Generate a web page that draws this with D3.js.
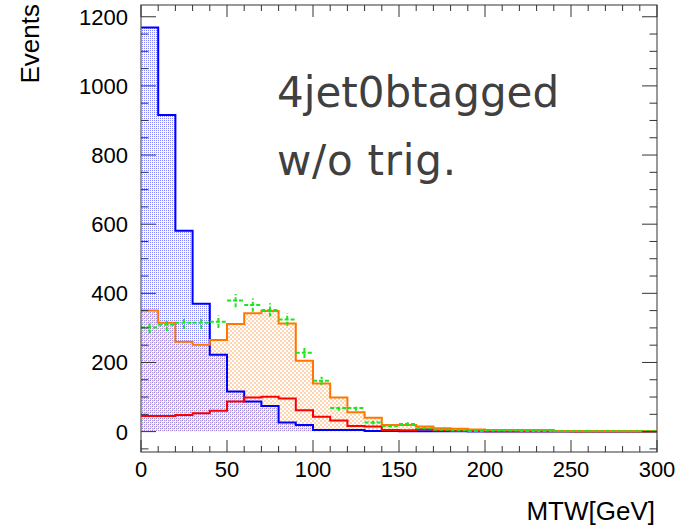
<!DOCTYPE html>
<html><head><meta charset="utf-8">
<script src="https://cdn.jsdelivr.net/npm/d3@7"></script>
<style>
html,body{margin:0;padding:0;background:#fff;}
svg{display:block;}
</style></head>
<body>
<svg id="c" width="696" height="529"></svg>
<script>
// ---- data (bins of 10 GeV from 0 to 300) ----
const binEdges = d3.range(0, 301, 10);
const blueVals   = [1169, 916, 581, 370, 222, 116, 87, 74, 26, 19, 5, 5, 5, 2, 2, 1, 1, 1, 1, 0.5, 0.5, 0.5, 0.5, 0.5, 0, 0, 0, 0, 0, 0];
const orangeVals = [350, 315, 260, 251, 265, 311, 342, 349, 313, 205, 139, 99, 56, 40, 19, 19, 15, 10, 8, 6, 5, 5, 5, 5, 2, 2, 2, 2, 2, 2];
const redVals    = [45, 45, 48, 53, 60, 87, 99, 101, 96, 62, 43, 32, 16, 15, 5, 4, 7, 3, 2, 2, 1, 1, 1, 1, 1, 0.5, 0.5, 0.5, 0.5, 0.5];
const dataVals   = [301, 309, 315, 315, 318, 379, 366, 352, 324, 228, 147, 68, 68, 26, 16, 22, 10, 5, 4, 2, 3, 3, 2, 2, 1, 1, 1, 1, 1, 1];
const dataErrs   = [17, 18, 18, 18, 18, 19, 19, 19, 18, 15, 12, 8, 8, 5, 4, 5, 3, 2, 2, 1.5, 1.7, 1.7, 1.5, 1.5, 1, 1, 1, 1, 1, 1];
const xTicks = [0, 50, 100, 150, 200, 250, 300];
const yTicks = [0, 200, 400, 600, 800, 1000, 1200];
const labelLines = ["4jet0btagged", "w/o trig."];

// ---- layout ----
const L = 141, R = 657, T = 5, B = 452;
const svg = d3.select("#c");
const x = d3.scaleLinear().domain([0, 300]).range([L, R]);
const y = d3.scaleLinear().domain([-59, 1234]).range([B, T]);

// patterns (dotted fills)
const defs = svg.append("defs");
const pb = defs.append("pattern").attr("id", "pblue").attr("patternUnits", "userSpaceOnUse").attr("width", 2).attr("height", 2);
pb.append("rect").attr("x", 0).attr("y", 0).attr("width", 1).attr("height", 1).attr("fill", "#5050ff").attr("opacity", 0.7);
const po = defs.append("pattern").attr("id", "porange").attr("patternUnits", "userSpaceOnUse").attr("width", 4).attr("height", 4);
po.append("rect").attr("x", 0).attr("y", 0).attr("width", 2).attr("height", 2).attr("fill", "#fcb070").attr("opacity", 0.55);
po.append("rect").attr("x", 2).attr("y", 2).attr("width", 2).attr("height", 2).attr("fill", "#fcb070").attr("opacity", 0.55);

function stepPts(vals) {
  const pts = vals.map((v, i) => [binEdges[i], v]);
  pts.push([binEdges[vals.length], vals[vals.length - 1]]);
  return pts;
}
const area = d3.area().x(d => x(d[0])).y0(y(0)).y1(d => y(d[1])).curve(d3.curveStepAfter);
const line = d3.line().x(d => x(d[0])).y(d => y(d[1])).curve(d3.curveStepAfter);

const g = svg.append("g");
g.append("path").attr("d", area(stepPts(blueVals))).attr("fill", "url(#pblue)");
g.append("path").attr("d", area(stepPts(orangeVals))).attr("fill", "url(#porange)");
g.append("path").attr("d", line(stepPts(blueVals))).attr("fill", "none").attr("stroke", "#0000ff").attr("stroke-width", 2);
g.append("path").attr("d", line(stepPts(redVals))).attr("fill", "none").attr("stroke", "#ff0000").attr("stroke-width", 2);
g.append("path").attr("d", line(stepPts(orangeVals))).attr("fill", "none").attr("stroke", "#ff7700").attr("stroke-width", 2);

// data points with error bars (dashed green)
const pg = g.append("g").attr("stroke", "#1ee61e").attr("stroke-width", 2).attr("stroke-dasharray", "4,2");
dataVals.forEach((v, i) => {
  const x0 = x(binEdges[i]), x1 = x(binEdges[i + 1]), xc = (x0 + x1) / 2;
  pg.append("line").attr("x1", x0).attr("x2", x1).attr("y1", y(v)).attr("y2", y(v));
  pg.append("line").attr("x1", xc).attr("x2", xc).attr("y1", y(v - dataErrs[i])).attr("y2", y(v + dataErrs[i]));
});

// frame
svg.append("rect").attr("x", L).attr("y", T).attr("width", R - L).attr("height", B - T)
  .attr("fill", "none").attr("stroke", "#555").attr("stroke-width", 1.2);

// ticks
const tk = svg.append("g").attr("stroke", "#333").attr("stroke-width", 1);
d3.range(0, 301, 10).forEach(v => {
  const len = v % 50 === 0 ? 12 : 6;
  tk.append("line").attr("x1", x(v)).attr("x2", x(v)).attr("y1", B).attr("y2", B - len);
  tk.append("line").attr("x1", x(v)).attr("x2", x(v)).attr("y1", T).attr("y2", T + len);
});
d3.range(-50, 1201, 50).forEach(v => {
  const len = v % 200 === 0 ? 15 : 7.5;
  tk.append("line").attr("y1", y(v)).attr("y2", y(v)).attr("x1", L).attr("x2", L + len);
  tk.append("line").attr("y1", y(v)).attr("y2", y(v)).attr("x1", R).attr("x2", R - len);
});

// tick labels
const lab = svg.append("g").attr("font-family", "'Liberation Sans', Arial, sans-serif").attr("font-size", 22).attr("fill", "#000");
xTicks.forEach(v => lab.append("text").attr("x", x(v)).attr("y", 477).attr("text-anchor", "middle").text(v));
yTicks.forEach(v => lab.append("text").attr("x", 128).attr("y", y(v)).attr("dy", "0.36em").attr("text-anchor", "end").text(v));

// axis titles
svg.append("text").attr("font-family", "'Liberation Sans', Arial, sans-serif").attr("font-size", 26)
  .attr("x", 655).attr("y", 520).attr("text-anchor", "end").text("MTW[GeV]");
svg.append("text").attr("font-family", "'Liberation Sans', Arial, sans-serif").attr("font-size", 26)
  .attr("transform", "translate(39,4) rotate(-90)").attr("text-anchor", "end").text("Events");

// annotation
const ann = svg.append("g").attr("font-family", "'DejaVu Sans', sans-serif").attr("font-size", 42).attr("fill", "#404040");
ann.append("text").attr("x", 277).attr("y", 107).text(labelLines[0]);
ann.append("text").attr("x", 277).attr("y", 175).attr("textLength", 179).attr("lengthAdjust", "spacing").text(labelLines[1]);
</script>
</body></html>
